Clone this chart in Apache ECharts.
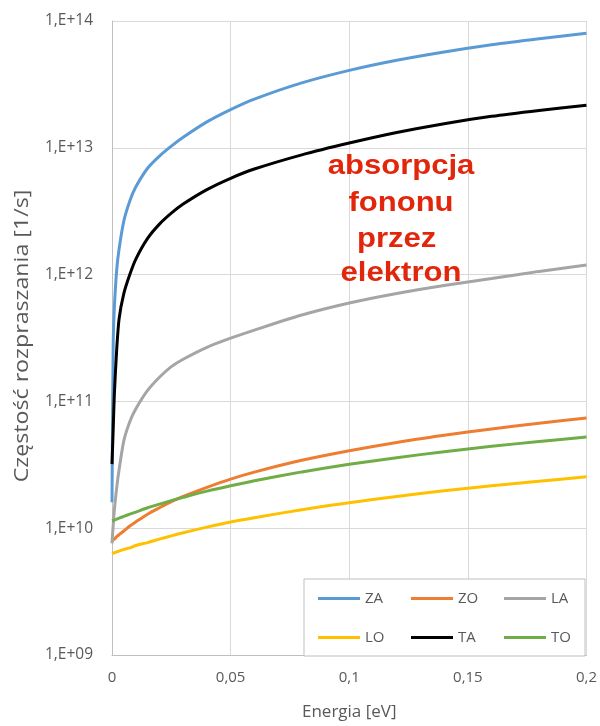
<!DOCTYPE html>
<html>
<head>
<meta charset="utf-8">
<script src="https://cdn.jsdelivr.net/npm/echarts@6/dist/echarts.min.js"></script>
<style>html,body{margin:0;padding:0;background:#fff}#c{width:600px;height:726px}</style>
</head>
<body>
<div id="c"></div>
<script>
// Data
const seriesNames = ['ZA', 'ZO', 'LA', 'LO', 'TA', 'TO'];
const energy = [0, 0.0005, 0.001, 0.002, 0.003, 0.005, 0.0075, 0.01, 0.015, 0.02, 0.025, 0.03, 0.04, 0.05, 0.06, 0.08, 0.1, 0.12, 0.14, 0.16, 0.18, 0.2];
const ZA = [1.6e10, 2.8e11, 5.5e11, 1.1e12, 1.6e12, 2.65e12, 3.8e12, 4.9e12, 6.9e12, 8.6e12, 1.03e13, 1.21e13, 1.6e13, 2.0e13, 2.42e13, 3.25e13, 4.08e13, 4.9e13, 5.7e13, 6.5e13, 7.25e13, 8.0e13];
const ZO = [7.9e9, 8.1e9, 8.2e9, 8.6e9, 8.9e9, 9.5e9, 1.04e10, 1.12e10, 1.29e10, 1.45e10, 1.62e10, 1.78e10, 2.1e10, 2.44e10, 2.77e10, 3.43e10, 4.08e10, 4.75e10, 5.4e10, 6.07e10, 6.73e10, 7.4e10];
const LA = [7.6e9, 1.05e10, 1.4e10, 2.1e10, 2.9e10, 4.9e10, 6.9e10, 8.7e10, 1.22e11, 1.55e11, 1.88e11, 2.15e11, 2.67e11, 3.15e11, 3.65e11, 4.8e11, 5.97e11, 7.1e11, 8.2e11, 9.3e11, 1.06e12, 1.19e12];
const LO = [6.3e9, 6.35e9, 6.4e9, 6.5e9, 6.6e9, 6.8e9, 7.0e9, 7.3e9, 7.7e9, 8.2e9, 8.7e9, 9.2e9, 1.02e10, 1.12e10, 1.21e10, 1.4e10, 1.59e10, 1.78e10, 1.97e10, 2.16e10, 2.35e10, 2.54e10];
const TA = [3.2e10, 6.0e10, 1.15e11, 2.6e11, 4.5e11, 7.1e11, 1.0e12, 1.32e12, 1.93e12, 2.5e12, 3.05e12, 3.6e12, 4.68e12, 5.75e12, 6.8e12, 8.8e12, 1.09e13, 1.32e13, 1.55e13, 1.77e13, 1.97e13, 2.17e13];
const TO = [1.14e10, 1.15e10, 1.16e10, 1.18e10, 1.2e10, 1.24e10, 1.29e10, 1.34e10, 1.45e10, 1.55e10, 1.65e10, 1.75e10, 1.96e10, 2.16e10, 2.37e10, 2.78e10, 3.19e10, 3.6e10, 4.01e10, 4.42e10, 4.83e10, 5.24e10];
const xTickLabels = ['0', '0,05', '0,1', '0,15', '0,2'];
const yTickLabels = ['1,E+09', '1,E+10', '1,E+11', '1,E+12', '1,E+13', '1,E+14'];
const annotationLines = ['absorpcja', 'fononu', 'przez ', 'elektron'];

const seriesValues = [ZA, ZO, LA, LO, TA, TO];
const colors = ['#5B9BD5', '#ED7D31', '#A5A5A5', '#FFC000', '#000000', '#70AD47'];
const font = 'Open Sans';
const txt = '#595959';

const chart = echarts.init(document.getElementById('c'), null, {renderer: 'canvas'});
const option = {
  animation: false,
  backgroundColor: '#ffffff',
  color: colors,
  grid: {left: 112, right: 13, top: 21, bottom: 71, containLabel: false},
  xAxis: {
    type: 'value', min: 0, max: 0.2, interval: 0.05,
    name: 'Energia [eV]', nameLocation: 'middle', nameGap: 49,
    nameTextStyle: {fontFamily: font, fontSize: 17, color: txt},
    axisLine: {show: true, lineStyle: {color: '#bfbfbf', width: 1}},
    axisTick: {show: false},
    axisLabel: {fontFamily: font, fontSize: 15, color: txt, margin: 15,
      formatter: (v) => xTickLabels[Math.round(v / 0.05)]},
    splitLine: {show: true, lineStyle: {color: '#d9d9d9', width: 1}}
  },
  yAxis: {
    type: 'log', logBase: 10, min: 1e9, max: 1e14,
    axisLine: {show: true, lineStyle: {color: '#bfbfbf', width: 1}},
    axisTick: {show: false},
    axisLabel: {fontFamily: font, fontSize: 15.5, color: txt, margin: 19,
      formatter: (v) => yTickLabels[Math.round(Math.log10(v)) - 9]},
    splitLine: {show: true, lineStyle: {color: '#d9d9d9', width: 1}}
  },
  legend: {
    left: 304, top: 579, width: 265,
    padding: [8, 4, 7, 14],
    borderColor: '#bfbfbf', borderWidth: 1, backgroundColor: '#ffffff',
    icon: 'rect', itemWidth: 42, itemHeight: 3, itemGap: 16,
    textStyle: {fontFamily: font, fontSize: 15, color: txt, width: 30, lineHeight: 23, padding: 0},
    data: seriesNames
  },
  series: seriesNames.map((n, k) => ({
    name: n, type: 'line', showSymbol: false, symbol: 'none',
    smooth: 0.25,
    lineStyle: {width: 3, color: colors[k]},
    itemStyle: {color: colors[k]},
    data: energy.map((x, i) => [x, seriesValues[k][i]])
  })),
  graphic: [
    {type: 'text', x: 22, y: 336, rotation: Math.PI / 2, scaleX: 1.16, z: 100,
      style: {text: 'Częstość rozpraszania [1/s]', fontFamily: font, fontSize: 20, fill: txt, align: 'center', verticalAlign: 'middle'}},
    ...annotationLines.map((t, i) => ({
      type: 'text', x: 401, y: [167, 204, 240, 274][i], scaleX: 1.15, z: 100,
      style: {text: t, fontFamily: 'Liberation Sans', fontWeight: 'bold', fontSize: 27, fill: '#e2260c', align: 'center', verticalAlign: 'middle'}
    }))
  ]
};
chart.setOption(option);
</script>
</body>
</html>
